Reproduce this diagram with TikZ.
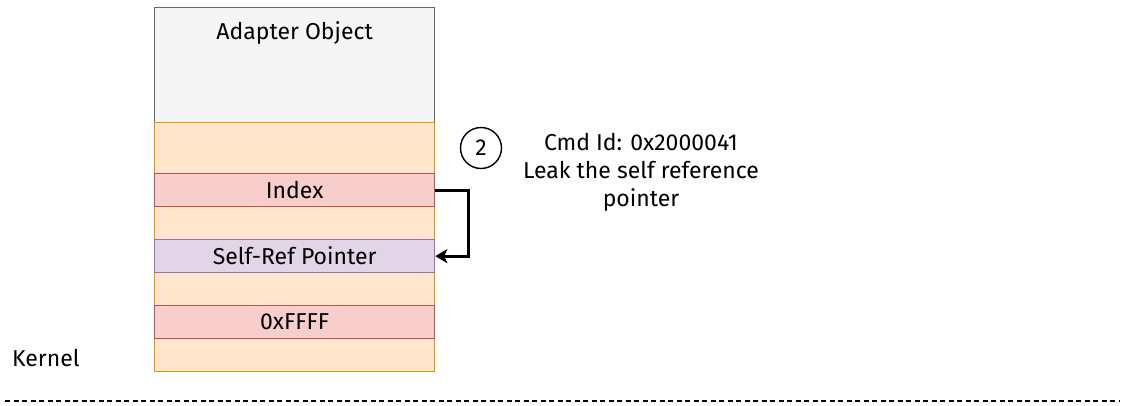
\documentclass[tikz,border=0pt]{standalone}
\usepackage{fontspec}
\setmainfont{Fira Sans}
\usetikzlibrary{arrows.meta}
\definecolor{grayfill}{HTML}{F5F5F5}
\definecolor{graydraw}{HTML}{666666}
\definecolor{orfill}{HTML}{FFE6CC}
\definecolor{ordraw}{HTML}{D79B00}
\definecolor{redfill}{HTML}{F8CECC}
\definecolor{reddraw}{HTML}{B85450}
\definecolor{purfill}{HTML}{E1D5E7}
\definecolor{purdraw}{HTML}{9673A6}
\tikzset{
  cell/.style={draw, line width=1.3pt, minimum width=280pt, inner sep=0pt, anchor=north west, font=\fontsize{23}{26}\selectfont},
  txt/.style={font=\fontsize{23}{28}\selectfont, align=center},
}
\begin{document}
\begin{tikzpicture}[x=1pt,y=-1pt]
\useasboundingbox (0,0) rectangle (1124,405);
\node[cell, fill=grayfill, draw=graydraw, minimum height=115pt] (obj) at (154,7) {};
\node[anchor=north, txt] (objlbl) at ([yshift=-11pt]obj.north) {Adapter Object};
\node[cell, fill=orfill, draw=ordraw, minimum height=249pt] (body) at (154,122) {};
\node[cell, fill=redfill, draw=reddraw, minimum height=33pt] (idx) at (154,173) {Index};
\node[cell, fill=purfill, draw=purdraw, minimum height=33pt] (self) at (154,239) {Self-Ref Pointer};
\node[cell, fill=redfill, draw=reddraw, minimum height=33pt] (ffff) at (154,305) {0xFFFF};
\draw[line width=3.2pt, -{Stealth[length=12pt,width=14pt,inset=3pt]}] (idx.east) -- ++(33,0) |- (self.east);
\node[draw, circle, line width=1.4pt, minimum size=41pt, inner sep=0pt, font=\fontsize{23}{26}\selectfont] (two) at (481,148) {2};
\node[txt] (desc) at (641,172) {Cmd Id: 0x2000041\\Leak the self reference\\pointer};
\node[anchor=west, font=\fontsize{23}{26}\selectfont, inner sep=0pt] (kern) at (12,358) {Kernel};
\coordinate (dl) at (5,401);
\coordinate (dr) at (1120,401);
\draw[line width=1.5pt, dash pattern=on 5pt off 3.5pt] (dl) -- (dr);
\end{tikzpicture}
\end{document}
